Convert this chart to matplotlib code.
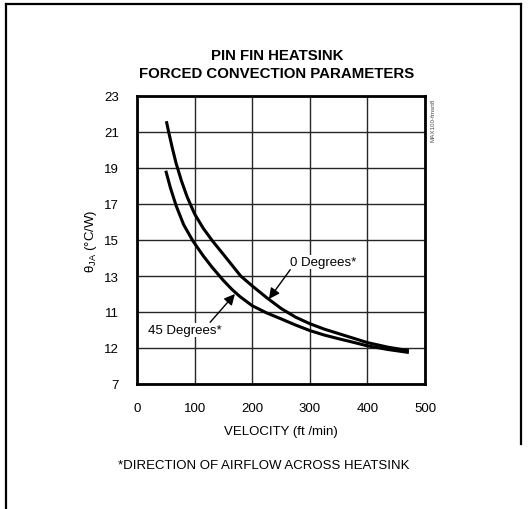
import numpy as np
import matplotlib
matplotlib.use('Agg')
import matplotlib.pyplot as plt
from matplotlib.lines import Line2D

# Data
vel_0deg = [51, 55, 61, 68, 77, 87, 100, 115, 131, 150, 165, 180, 200, 225, 250,
            275, 300, 325, 352, 375, 400, 435, 472]
theta_0deg = [21.6, 21.0, 20.15, 19.25, 18.3, 17.4, 16.45, 15.65, 14.95, 14.2, 13.6, 13.0, 12.45,
              11.8, 11.2, 10.72, 10.35, 10.05, 9.78, 9.55, 9.3, 9.05, 8.85]

vel_45deg = [50, 58, 68, 81, 97, 115, 130, 150, 165, 179, 200, 225, 250, 275, 300,
             325, 352, 375, 400, 435, 472]
theta_45deg = [18.85, 17.9, 16.9, 15.85, 14.95, 14.12, 13.5, 12.75, 12.25, 11.85, 11.35, 10.95,
               10.62, 10.28, 9.97, 9.72, 9.5, 9.32, 9.12, 8.92, 8.75]

xticks = [0, 100, 200, 300, 400, 500]
yticks = [7, 9, 11, 13, 15, 17, 19, 21, 23]
ytick_labels = ['7', '12', '11', '13', '15', '17', '19', '21', '23']

plt.rcParams['font.family'] = ['Liberation Sans', 'DejaVu Sans']

W, H = 529, 510
fig = plt.figure(figsize=(W / 100, H / 100), dpi=100, facecolor='white')


def fx(px):
    return px / W


def fy(py):
    return 1 - py / H


# scanned page frame
fig.add_artist(Line2D([fx(6), fx(6)], [fy(5), fy(510)], color='black', lw=1.6))
fig.add_artist(Line2D([fx(6), fx(521)], [fy(5), fy(5)], color='black', lw=1.6))
fig.add_artist(Line2D([fx(521), fx(521)], [fy(5), fy(445)], color='black', lw=1.6))

ax = fig.add_axes([fx(137), fy(385), fx(425) - fx(137), fy(97) - fy(385)])
ax.set_xlim(0, 500)
ax.set_ylim(7, 23)
ax.set_xticks(xticks)
ax.set_yticks(yticks)
ax.set_yticklabels(ytick_labels)
ax.tick_params(length=0, labelsize=9.5, pad=13)
ax.tick_params(axis='x', pad=13)
ax.grid(True, color='0.15', lw=1.0)
for s in ax.spines.values():
    s.set_linewidth(2.0)

ax.plot(vel_0deg, theta_0deg, color='black', lw=2.2, solid_capstyle='butt',
        solid_joinstyle='round', zorder=3)
ax.plot(vel_45deg, theta_45deg, color='black', lw=2.2, solid_capstyle='butt',
        solid_joinstyle='round', zorder=3)

arrow = dict(arrowstyle='-|>', color='black', lw=1.0, mutation_scale=16, shrinkA=0, shrinkB=0)
ax.annotate('', xy=(229, 11.72), xytext=(266, 13.35), arrowprops=arrow)
ax.annotate('', xy=(170, 12.0), xytext=(127, 10.43), arrowprops=arrow)
ax.text(265, 13.78, '0 Degrees*', fontsize=9.5, ha='left', va='center',
        bbox=dict(boxstyle='square,pad=0.1', fc='white', ec='none'))
ax.text(83, 10.0, '45 Degrees*', fontsize=9.5, ha='center', va='center',
        bbox=dict(boxstyle='square,pad=0.1', fc='white', ec='none'))

ax.set_ylabel(r'$\mathregular{\theta_{JA}}$ (°C/W)', fontsize=9.5, labelpad=4)
ax.set_xlabel('VELOCITY (ft /min)', fontsize=9.5, labelpad=8)

fig.text(fx(277), fy(65), 'PIN FIN HEATSINK\nFORCED CONVECTION PARAMETERS',
         fontweight='bold', fontsize=10.8, ha='center', va='center', linespacing=1.4)
fig.text(fx(264), fy(466), '*DIRECTION OF AIRFLOW ACROSS HEATSINK',
         fontsize=9.5, ha='center', va='center')
fig.text(fx(433), fy(120), 'MAX100-fmsrt8', fontsize=4.5, rotation=90,
         ha='center', va='center', color='0.3')

fig.savefig('out.png', dpi=100, facecolor='white')
